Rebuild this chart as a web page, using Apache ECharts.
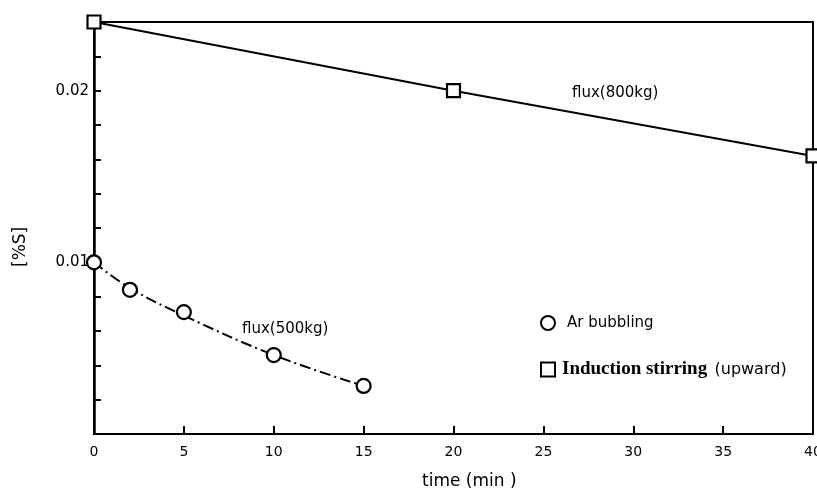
<!DOCTYPE html>
<html>
<head>
<meta charset="utf-8">
<script src="https://cdn.jsdelivr.net/npm/echarts@6/dist/echarts.min.js"></script>
<style>html,body{margin:0;padding:0;background:#fff;overflow:hidden}#c{width:817px;height:495px}</style>
</head>
<body>
<div id="c"></div>
<script>
// Data
var arTime = [0, 2, 5, 10, 15];
var arS = [0.0100, 0.0084, 0.0071, 0.0046, 0.0028];
var arFitTime = [0, 2, 5, 10, 15];
var arFitS = [0.0100, 0.0085, 0.0069, 0.0046, 0.0028];
var indTime = [0, 20, 40];
var indS = [0.0240, 0.0200, 0.0162];
var xTicks = [0, 5, 10, 15, 20, 25, 30, 35, 40];
var yLabels = [0.01, 0.02];

function pairs(xs, ys){ return xs.map(function(x,i){ return [x, ys[i]]; }); }

var chart = echarts.init(document.getElementById('c'), null, {renderer:'canvas'});
var font = 'DejaVu Sans, Verdana, sans-serif';
chart.setOption({
  animation: false,
  backgroundColor: '#fff',
  grid: {left: 94, right: 4, top: 22, bottom: 61, show: true, borderColor: '#000', borderWidth: 2,
    backgroundColor: 'transparent', containLabel: false, outerBoundsMode: 'none'},
  xAxis: {
    type: 'value', min: 0, max: 40, interval: 5,
    axisLine: {lineStyle: {color: '#000', width: 2}},
    axisTick: {inside: true, length: 8, lineStyle: {color: '#000', width: 2}},
    axisLabel: {color: '#000', fontSize: 14, fontFamily: font, margin: 11, hideOverlap: false,
      formatter: function(v){ return xTicks.indexOf(v) >= 0 ? String(v) : ''; }},
    splitLine: {show: false}
  },
  yAxis: {
    type: 'value', min: 0, max: 0.024, interval: 0.002,
    axisLine: {show: true, lineStyle: {color: '#000', width: 2.5}},
    axisTick: {show: true, inside: true, length: 7, lineStyle: {color: '#000', width: 2}},
    axisLabel: {color: '#000', fontSize: 15, fontFamily: font, margin: 5,
      formatter: function(v){
        for (var i=0;i<yLabels.length;i++){ if (Math.abs(v - yLabels[i]) < 1e-9) return yLabels[i].toFixed(2); }
        return '';
      }},
    splitLine: {show: false}
  },
  legend: {
    orient: 'vertical', left: 535, top: 310, itemGap: 29, itemWidth: 14, itemHeight: 14,
    data: [
      {name: 'Ar bubbling', icon: 'circle'},
      {name: 'Induction stirring', icon: 'rect'}
    ],
    formatter: function(n){
      if (n === 'Induction stirring') return '{b|Induction stirring} {s|(upward)}';
      return '{a|' + n + '}';
    },
    textStyle: {
      color: '#000',
      rich: {
        a: {fontFamily: font, fontSize: 15, color: '#000', padding: [0,0,0,7]},
        b: {fontFamily: 'Liberation Serif, Times New Roman, serif', fontWeight: 'bold', fontSize: 19, color: '#000', padding: [0,0,0,2]},
        s: {fontFamily: font, fontSize: 16, color: '#000', padding: [0,0,0,4]}
      }
    }
  },
  series: [
    {
      type: 'line', name: 'fit', data: pairs(arFitTime, arFitS), smooth: 0.4, showSymbol: false, symbol: 'none',
      lineStyle: {color: '#000', width: 2, type: [11, 4, 2, 4]}, z: 2, silent: true
    },
    {
      type: 'scatter', name: 'Ar bubbling', data: pairs(arTime, arS), symbol: 'circle', symbolSize: 14,
      itemStyle: {color: '#fff', borderColor: '#000', borderWidth: 2.2, opacity: 1}, z: 5
    },
    {
      type: 'line', name: 'Induction stirring', data: pairs(indTime, indS), symbol: 'rect', symbolSize: 13, showSymbol: true,
      lineStyle: {color: '#000', width: 2},
      itemStyle: {color: '#fff', borderColor: '#000', borderWidth: 2.2}, z: 5
    }
  ],
  graphic: [
    {type: 'text', left: 572, top: 86, style: {text: 'flux(800kg)', font: '15px ' + font, fill: '#000'}},
    {type: 'text', left: 242, top: 322, style: {text: 'flux(500kg)', font: '15px ' + font, fill: '#000'}},
    {type: 'text', left: 422, top: 473, style: {text: 'time (min )', font: '17px ' + font, fill: '#000'}},
    {type: 'text', x: 12, y: 267, rotation: Math.PI/2, style: {text: '[%S]', font: '17px ' + font, fill: '#000'}}
  ]
});
</script>
</body>
</html>
